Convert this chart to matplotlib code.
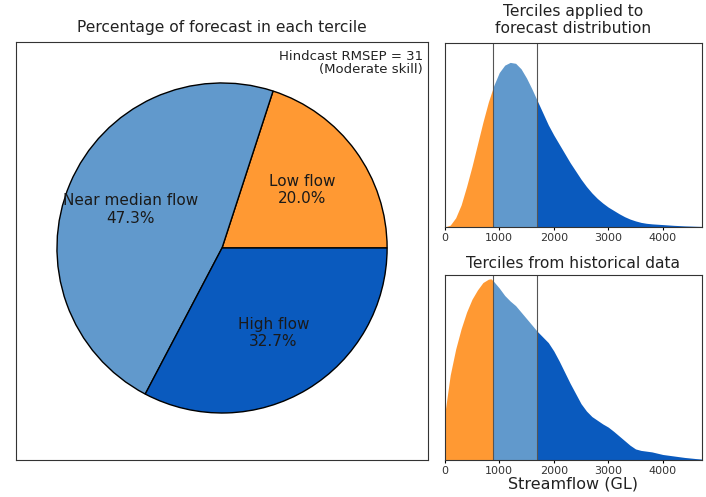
import numpy as np
import matplotlib
matplotlib.use("Agg")
import matplotlib.pyplot as plt

# Pie data
categories = ["Low flow", "Near median flow", "High flow"]
percentages = [20.0, 47.3, 32.7]
pie_colors = ["#ff9933", "#6199cc", "#0a5abe"]
skill_text = "Hindcast RMSEP = 31\n(Moderate skill)"

# Tercile boundaries (GL)
terciles = [885, 1690]

# Forecast distribution (relative density)
fc_flow = [0, 100, 200, 300, 400, 500, 600, 700, 800, 900, 1000, 1100, 1200,
           1300, 1400, 1500, 1600, 1700, 1800, 1900, 2000, 2100, 2200, 2300,
           2400, 2500, 2600, 2700, 2800, 2900, 3000, 3100, 3200, 3300, 3400,
           3500, 3600, 3700, 3800, 3900, 4000, 4200, 4400, 4600, 4720]
fc_density = [0.0, 0.01, 0.05, 0.12, 0.22, 0.33, 0.45, 0.57, 0.68, 0.77, 0.84,
              0.88, 0.895, 0.89, 0.86, 0.81, 0.75, 0.685, 0.62, 0.555, 0.50,
              0.45, 0.40, 0.35, 0.305, 0.26, 0.22, 0.185, 0.155, 0.13, 0.108,
              0.09, 0.072, 0.056, 0.043, 0.033, 0.025, 0.02, 0.017, 0.015,
              0.013, 0.009, 0.006, 0.004, 0.003]

# Historical distribution (relative density)
hist_flow = [0, 100, 200, 300, 400, 500, 600, 700, 800, 850, 900, 1000, 1100,
             1200, 1300, 1400, 1500, 1600, 1700, 1800, 1900, 2000, 2100, 2200,
             2300, 2400, 2500, 2600, 2700, 2800, 2900, 3000, 3100, 3200, 3300,
             3400, 3500, 3600, 3700, 3800, 3900, 4000, 4200, 4400, 4600, 4720]
hist_density = [0.25, 0.46, 0.60, 0.71, 0.80, 0.87, 0.92, 0.96, 0.978, 0.98,
                0.965, 0.93, 0.89, 0.86, 0.835, 0.80, 0.765, 0.73, 0.695,
                0.665, 0.635, 0.59, 0.535, 0.475, 0.415, 0.36, 0.305, 0.265,
                0.235, 0.215, 0.195, 0.178, 0.155, 0.13, 0.105, 0.08, 0.06,
                0.052, 0.048, 0.044, 0.037, 0.03, 0.022, 0.014, 0.008, 0.005]

fig = plt.figure(figsize=(7.06, 4.97), dpi=100)

# Pie chart
ax = fig.add_axes([0.0227, 0.0744, 0.5836, 0.841])
names = iter(categories)
ax.pie(percentages, colors=pie_colors, startangle=0, counterclock=True,
       autopct=lambda p: "%s\n%.1f%%" % (next(names), p), pctdistance=0.6,
       wedgeprops=dict(edgecolor="black", linewidth=1),
       textprops=dict(fontsize=11, color="#1a1a1a"))
ax.set_aspect("auto")
ax.set_xlim(-1.248, 1.248)
ax.set_ylim(-1.285, 1.248)
ax.set_frame_on(True)
ax.set_xticks([])
ax.set_yticks([])
for s in ax.spines.values():
    s.set_color("#333333")
ax.set_title("Percentage of forecast in each tercile", fontsize=11.2, pad=7,
             color="#222222")
ax.text(0.988, 0.982, skill_text, transform=ax.transAxes, ha="right", va="top",
        fontsize=9.5, color="#222222", linespacing=1.05)


def draw_dist(ax, flow, dens, title, pad):
    x = np.array(flow, dtype=float)
    y = np.array(dens, dtype=float)
    # insert tercile points so fills meet exactly
    xs = np.concatenate([x, terciles])
    ys = np.concatenate([y, np.interp(terciles, x, y)])
    order = np.argsort(xs)
    xs, ys = xs[order], ys[order]
    ax.fill_between(xs, 0, ys, where=xs <= terciles[0], color=pie_colors[0], lw=0)
    ax.fill_between(xs, 0, ys, where=(xs >= terciles[0]) & (xs <= terciles[1]),
                    color=pie_colors[1], lw=0)
    ax.fill_between(xs, 0, ys, where=xs >= terciles[1], color=pie_colors[2], lw=0)
    for t in terciles:
        ax.axvline(t, color="#555555", lw=0.8)
    ax.set_xlim(0, 4716)
    ax.set_ylim(0, 1.0)
    ax.set_yticks([])
    ax.set_xticks([0, 1000, 2000, 3000, 4000])
    ax.tick_params(axis="x", labelsize=8, length=2, pad=2, labelcolor="#333333")
    for s in ax.spines.values():
        s.set_color("#333333")
    ax.set_title(title, fontsize=11.2, pad=pad, color="#222222", linespacing=1.2)


ax1 = fig.add_axes([0.630, 0.5433, 0.364, 0.370])
draw_dist(ax1, fc_flow, fc_density, "Terciles applied to\nforecast distribution", 7)

ax2 = fig.add_axes([0.630, 0.0744, 0.364, 0.372])
draw_dist(ax2, hist_flow, hist_density, "Terciles from historical data", 5)
ax2.set_xlabel("Streamflow (GL)", fontsize=11.5, labelpad=1, color="#222222")

fig.savefig("out.png", dpi=100)
